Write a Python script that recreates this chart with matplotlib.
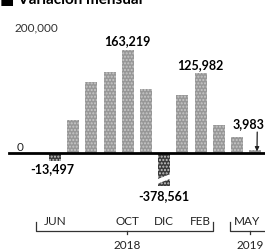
import matplotlib.pyplot as plt
from matplotlib.patches import Polygon
import numpy as np

meses = ['JUN', 'JUL', 'AGO', 'SEP', 'OCT', 'NOV', 'DIC', 'ENE', 'FEB', 'MAR', 'ABR', 'MAY']
valores = [-13497, 52000, 113000, 128000, 163219, 101000, -378561, 92000, 125982, 44000, 25000, 3983]
etiquetados = ['JUN', 'OCT', 'DIC', 'FEB', 'MAY']
con_valor = ['JUN', 'OCT', 'DIC', 'FEB', 'MAY']
corte = -52000  # la barra de DIC se corta aqui

plt.rcParams['font.family'] = ['Lato', 'DejaVu Sans']

fig = plt.figure(figsize=(2.65, 2.53), dpi=100)
ax = fig.add_axes([0, 0, 1, 1])
ax.set_xlim(-3.02, 11.54)
ax.set_ylim(-157000, 244000)
ax.axis('off')

x = np.arange(len(meses))
alto = [max(v, corte) for v in valores]
colores = ['#979797' if v > 0 else '#3a3a3a' for v in valores]
ax.bar(x, alto, width=0.66, color=colores, edgecolor='#c8c8c8', linewidth=0, hatch='.....', zorder=2)

# corte de la barra grande
i = meses.index('DIC')
ax.add_patch(Polygon([[i - 0.4, -43000], [i + 0.4, -34000], [i + 0.4, -39000], [i - 0.4, -48000]],
                     closed=True, color='white', zorder=3))

ax.plot([-2.5, 11.6], [0, 0], color='black', lw=2, zorder=4)
ax.text(-2.1, 1500, '0', fontsize=8.5, color='#222222', va='bottom')
ax.text(-2.2, 200000, '200,000', fontsize=8.5, color='#333333', va='center')

for m in con_valor:
    k = meses.index(m)
    v = valores[k]
    txt = '{:,}'.format(v)
    if m == 'MAY':
        ax.annotate(txt, xy=(k + 0.1, 2500), xytext=(k - 1.25, 47000), fontsize=9, fontweight='bold',
                    va='center', ha='left',
                    arrowprops=dict(arrowstyle='-|>', color='#222222', lw=0.9, mutation_scale=6,
                                    shrinkA=0, shrinkB=0, relpos=(0.78, 0.1)))
    elif v > 0:
        ax.text(k, v + 6000, txt, fontsize=9, fontweight='bold', ha='center', va='bottom')
    elif m == 'DIC':
        ax.text(k, -67000, txt, fontsize=9, fontweight='bold', ha='center', va='center')
    else:
        ax.text(k - 0.15, -24000, txt, fontsize=9, fontweight='bold', ha='center', va='center')

for m in etiquetados:
    k = meses.index(m)
    px = k - 0.45 if m == 'MAY' else k
    ax.text(px, -107500, m, fontsize=8.5, ha='center', va='center', color='#222222')

# llaves de anio
def llave(x0, x1, xm, anio):
    ax.plot([x0, x0, x1, x1], [-110000, -123500, -123500, -110000], color='#333333', lw=0.9, clip_on=False)
    ax.plot([xm, xm], [-123500, -128500], color='#333333', lw=0.9)
    ax.text(xm, -145000, anio, fontsize=8.5, ha='center', va='center', color='#222222')

llave(-1.05, 8.7, 3.95, '2018')
llave(9.6, 12.5, 10.7, '2019')

fig.text(0.0, 0.986, '\u25a0 Variación mensual', fontsize=11, fontweight='bold', va='baseline', ha='left')

fig.savefig('out.png', dpi=100)
